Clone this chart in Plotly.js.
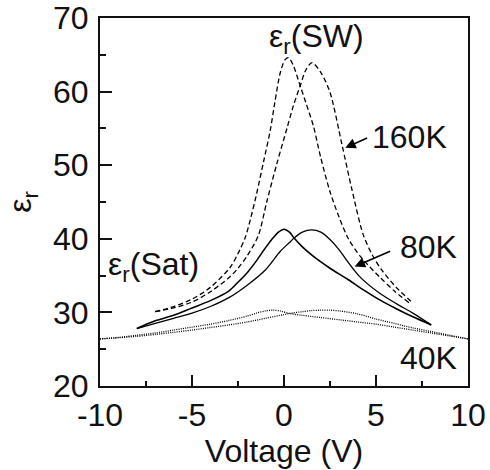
<!DOCTYPE html>
<html>
<head>
<meta charset="utf-8">
<script src="https://cdn.plot.ly/plotly-3.0.1.min.js"></script>
<style>html,body{margin:0;padding:0;background:#fff;}#chart{width:490px;height:470px;}</style>
</head>
<body>
<div id="chart"></div>
<script>
// 40K (dotted), two sweep directions
const v40a = [-10,-9,-8,-7,-6,-5,-4,-3,-2,-1.5,-1,-0.6,-0.2,0.3,1,2,3,4,5,6,7,8,9,10];
const e40a = [26.4,26.6,26.9,27.2,27.6,28.0,28.4,28.9,29.5,29.9,30.2,30.3,30.2,29.85,29.6,29.3,29.0,28.7,28.4,28.0,27.6,27.2,26.8,26.4];
const v40b = [-10,-9,-8,-7,-6,-5,-4,-3,-2,-1,0,0.3,1,1.5,2,2.5,3,4,5,6,7,8,9,10];
const e40b = [26.4,26.55,26.75,27.0,27.3,27.6,27.95,28.3,28.7,29.2,29.7,29.85,30.1,30.25,30.3,30.3,30.2,29.8,29.1,28.5,27.9,27.4,26.9,26.4];
// 80K (solid)
const v80a = [-8,-7,-6,-5,-4,-3,-2.5,-2,-1.5,-1,-0.6,-0.3,0,0.3,0.55,1,1.6,2.5,3.4,4.3,5.2,6.1,7,8];
const e80a = [27.8,28.85,29.6,30.6,31.6,32.9,34.1,35.4,37.0,38.8,40.1,40.9,41.3,40.9,40.1,38.9,37.6,36.0,34.6,33.1,31.7,30.5,29.4,28.3];
const v80b = [-8,-7,-6,-5,-4,-3,-2,-1,-0.2,0.3,0.55,1,1.5,2,2.5,3,3.4,4.1,5.2,6.1,7,8];
const e80b = [27.8,28.5,29.2,29.9,30.8,32.0,33.7,35.8,38.3,39.5,40.1,40.9,41.2,40.9,39.9,38.5,37.1,34.9,32.6,31.2,29.9,28.3];
// 160K (dashed)
const v160a = [-7,-6,-5,-4,-2.93,-2.5,-2.1,-1.8,-1.5,-1.1,-0.75,-0.5,-0.2,0.05,0.25,0.5,0.8,1.2,1.6,2,2.5,3,3.5,4.15,5.2,6,6.8];
const e160a = [30.1,30.8,31.8,33.4,36.1,38.0,40.2,42.9,46.0,50.6,54.7,58.5,62.6,64.3,64.6,63.6,61.4,58.4,55.3,51.0,46.4,42.9,40.0,37.6,34.8,32.9,31.3];
const v160b = [-7,-6,-5,-4,-3,-2.5,-2,-1.4,-0.93,-0.4,0.16,0.5,0.88,1.2,1.52,2.0,2.5,3.15,3.7,4.3,4.8,5.3,6.1,7.0];
const e160b = [30.1,30.6,31.4,32.8,34.7,36.0,37.7,40.4,45.1,50.1,55.0,58.0,60.8,63.0,63.95,62.6,59.9,52.8,46.6,40.6,37.8,35.8,33.4,31.3];

const FONT = 'Liberation Sans, Arial, Helvetica, sans-serif';
const sp = {shape:'spline', smoothing:0.8, color:'#000'};
const traces = [
  {x:v40a, y:e40a, mode:'lines', line:Object.assign({}, sp, {width:1.3, dash:'1px,1.2px'})},
  {x:v40b, y:e40b, mode:'lines', line:Object.assign({}, sp, {width:1.3, dash:'1px,1.2px'})},
  {x:v80a, y:e80a, mode:'lines', line:Object.assign({}, sp, {width:1.6})},
  {x:v80b, y:e80b, mode:'lines', line:Object.assign({}, sp, {width:1.3})},
  {x:v160a, y:e160a, mode:'lines', line:Object.assign({}, sp, {width:1.3, dash:'5px,3px'})},
  {x:v160b, y:e160b, mode:'lines', line:Object.assign({}, sp, {width:1.3, dash:'5px,3px'})}
];

const afont = {family:FONT, size:32, color:'#111'};
const annotations = [
  {x:1.75, y:67.2, xref:'x', yref:'y', text:'ε<sub>r</sub>(SW)', showarrow:false, font:afont},
  {x:-9.67, y:36.2, xref:'x', yref:'y', xanchor:'left', text:'ε<sub>r</sub>(Sat)', showarrow:false, font:afont},
  {x:6.81, y:53.8, xref:'x', yref:'y', text:'160K', showarrow:false, font:afont},
  {x:7.87, y:38.9, xref:'x', yref:'y', text:'80K', showarrow:false, font:afont},
  {x:7.87, y:23.84, xref:'x', yref:'y', text:'40K', showarrow:false, font:afont},
  {x:3.33, y:52.37, ax:4.6, ay:53.8, xref:'x', yref:'y', axref:'x', ayref:'y', text:'', showarrow:true, arrowhead:2, arrowsize:1.3, arrowwidth:1.6, arrowcolor:'#000'},
  {x:3.84, y:36.22, ax:5.85, ay:38.4, xref:'x', yref:'y', axref:'x', ayref:'y', text:'', showarrow:true, arrowhead:2, arrowsize:1.3, arrowwidth:1.6, arrowcolor:'#000'}
];

const layout = {
  width:490, height:470,
  margin:{l:100, r:22, t:18, b:84},
  paper_bgcolor:'#fff', plot_bgcolor:'#fff',
  showlegend:false,
  font:{family:FONT, color:'#111'},
  xaxis:{
    range:[-10,10], tickvals:[-10,-5,0,5,10], ticktext:['-10','-5','0','5','10'],
    ticks:'inside', ticklen:11, tickwidth:2, tickcolor:'#111',
    minor:{tickvals:[-7.5,-2.5,2.5,7.5], ticks:'inside', ticklen:5, tickwidth:2, tickcolor:'#111'},
    showline:true, linewidth:2, linecolor:'#111', mirror:true,
    showgrid:false, zeroline:false,
    tickfont:{family:FONT, size:32, color:'#111'},
    title:{text:'Voltage (V)', font:{family:FONT, size:32, color:'#111'}, standoff:6}
  },
  yaxis:{
    range:[20,70], tickvals:[20,30,40,50,60,70],
    ticks:'inside', ticklen:12, tickwidth:2, tickcolor:'#111',
    minor:{tickvals:[25,35,45,55,65], ticks:'inside', ticklen:6, tickwidth:2, tickcolor:'#111'},
    showline:true, linewidth:2, linecolor:'#111', mirror:true,
    showgrid:false, zeroline:false, ticklabelstandoff:3,
    tickfont:{family:FONT, size:32, color:'#111'},
    title:{text:'ε<sub>r</sub>', font:{family:FONT, size:32, color:'#111'}, standoff:12}
  },
  annotations:annotations
};

Plotly.newPlot('chart', traces, layout, {displayModeBar:false, staticPlot:true});
</script>
</body>
</html>
